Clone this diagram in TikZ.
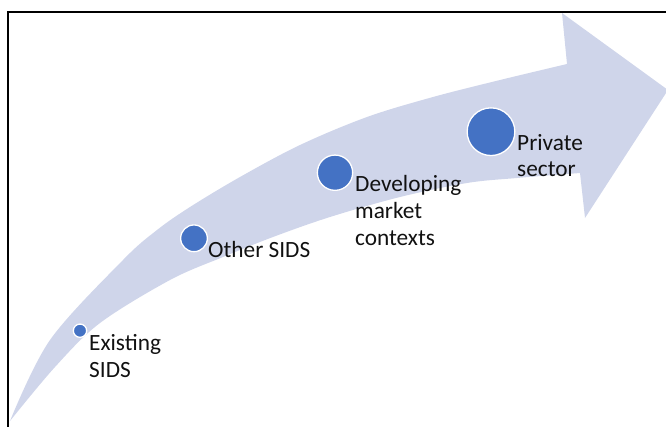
\documentclass[tikz,border=0pt]{standalone}
\usepackage{fontspec}
\setmainfont{Carlito}
\definecolor{bandcol}{HTML}{CFD5EA}
\definecolor{dotcol}{HTML}{4472C4}
\definecolor{txtcol}{HTML}{111111}
\begin{document}
\begin{tikzpicture}[x=1pt,y=-1pt,
  dot/.style={circle,fill=dotcol,draw=white,line width=1.3pt,inner sep=0pt},
  lbl/.style={anchor=base west,inner sep=0pt,align=left,text=txtcol,
    font=\fontsize{23.3pt}{26.7pt}\selectfont},
  frame/.style={line width=1.8pt,draw=black}]
\useasboundingbox (0,0) rectangle (666,426);
% curved arrow band
\fill[bandcol]
  plot[smooth,tension=0.55] coordinates {(10,421) (50,340) (123,260) (157,230) (190,207) (240,177) (300,145) (367,117) (433,97) (500,80) (567,64)}
  -- (562,13) -- (668,90) -- (585,218) -- (580,173)
  -- plot[smooth,tension=0.55] coordinates {(580,173) (517,178) (467,183) (400,197) (330,217) (273,237) (223,257) (170,280) (100,323) (55,367) (10,421)}
  -- cycle;
% frame
\coordinate (fbl) at (8,427);
\coordinate (ftl) at (8,12);
\coordinate (ftr) at (667,12);
\draw[frame] (fbl) -- (ftl) -- (ftr);
% dots
\node[dot,minimum size=13.3pt] (d1) at (80,330.7) {};
\node[dot,minimum size=26.7pt] (d2) at (194,238.3) {};
\node[dot,minimum size=35.3pt] (d3) at (335,172.7) {};
\node[dot,minimum size=47.7pt] (d4) at (491,131.7) {};
% labels (base anchor = baseline of the last line)
\node[lbl] (t1) at (89,377) {Existing\\SIDS};
\node[lbl] (t2) at (208,257.3) {Other SIDS};
\node[lbl] (t3) at (355,245.1) {Developing\\market\\contexts};
\node[lbl] (t4) at (517,176.7) {Private\\sector};
\end{tikzpicture}
\end{document}
